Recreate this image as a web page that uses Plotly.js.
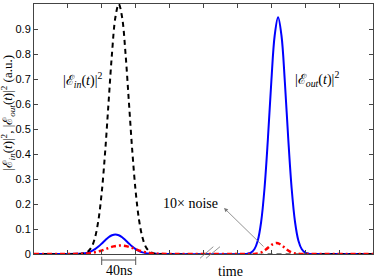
<!DOCTYPE html>
<html>
<head>
<meta charset="utf-8">
<script src="https://cdn.plot.ly/plotly-3.0.1.min.js"></script>
<style>html,body{margin:0;padding:0;background:#fff;}#chart{width:374px;height:280px;}</style>
</head>
<body>
<div id="chart"></div>
<script>
// |E_in(t)|^2 (black dashed)
const xIn = [0, 1.4, 1.5, 1.6, 1.7, 1.8, 1.9, 2.0, 2.1, 2.2, 2.3, 2.4, 2.5, 2.6, 2.7, 2.8, 2.9, 3.0, 3.1, 3.2, 3.3, 3.4, 3.5, 3.6, 10];
const yIn = [0, 0.001, 0.004, 0.011, 0.028, 0.066, 0.135, 0.249, 0.411, 0.607, 0.801, 0.946, 1.0, 0.946, 0.801, 0.607, 0.411, 0.249, 0.135, 0.066, 0.028, 0.011, 0.004, 0.001, 0];

// |E_out(t)|^2 (blue solid)
const xOut = [0,
  1.3, 1.4, 1.5, 1.6, 1.7, 1.8, 1.9, 2.0, 2.1, 2.2, 2.3, 2.4, 2.5, 2.6, 2.7, 2.8, 2.9, 3.0, 3.1, 3.2, 3.3, 3.4, 3.5,
  6.2, 6.3, 6.4, 6.5, 6.6, 6.7, 6.8, 6.9, 7.0, 7.1, 7.2, 7.3, 7.4, 7.5, 7.6, 7.7, 7.8, 7.9, 8.0, 8.1, 8.2,
  10];
const yOut = [0,
  0.0007, 0.0016, 0.0034, 0.0066, 0.0118, 0.0194, 0.0297, 0.0421, 0.0551, 0.0669, 0.075, 0.078, 0.075, 0.0669, 0.0551, 0.0421, 0.0297, 0.0194, 0.0118, 0.0066, 0.0034, 0.0016, 0.0007,
  0.0003, 0.0015, 0.0057, 0.0188, 0.053, 0.128, 0.263, 0.461, 0.688, 0.874, 0.947, 0.874, 0.688, 0.461, 0.263, 0.128, 0.053, 0.0188, 0.0057, 0.0015, 0.0003,
  0];

// 10x noise (red dash-dot)
const xNoise = [0,
  1.45, 1.55, 1.65, 1.75, 1.85, 1.95, 2.05, 2.15, 2.25, 2.35, 2.45, 2.55, 2.65, 2.75, 2.85, 2.95, 3.05, 3.15, 3.25, 3.35, 3.45, 3.55, 3.65,
  6.45, 6.55, 6.65, 6.75, 6.85, 6.95, 7.05, 7.15, 7.25, 7.35, 7.45, 7.55, 7.65, 7.75, 7.85,
  10];
const yNoise = [0,
  0.0011, 0.002, 0.0034, 0.0055, 0.0085, 0.0122, 0.0167, 0.0216, 0.0264, 0.0304, 0.033, 0.034, 0.033, 0.0304, 0.0264, 0.0216, 0.0167, 0.0122, 0.0085, 0.0055, 0.0034, 0.002, 0.0011,
  0.0004, 0.0015, 0.0041, 0.0097, 0.0188, 0.0302, 0.040, 0.044, 0.040, 0.0302, 0.0188, 0.0097, 0.0041, 0.0015, 0.0004,
  0];

const yTickVals = [0, 0.1, 0.2, 0.3, 0.4, 0.5, 0.6, 0.7, 0.8, 0.9, 1];
const yTickText = ['0', '0.1', '0.2', '0.3', '0.4', '0.5', '0.6', '0.7', '0.8', '0.9', '1'];
const xTickVals = [0, 1, 2, 3, 4, 5, 6, 7, 8, 9, 10];

const serif = 'Liberation Serif, DejaVu Serif, serif';

const traces = [
  {x: xOut, y: yOut, type: 'scatter', mode: 'lines',
   line: {color: '#0000ff', width: 2, shape: 'spline', smoothing: 1}},
  {x: xIn, y: yIn, type: 'scatter', mode: 'lines',
   line: {color: '#000000', width: 2, dash: '5px,4px', shape: 'spline', smoothing: 1}},
  {x: xNoise, y: yNoise, type: 'scatter', mode: 'lines',
   line: {color: '#ff0000', width: 2.5, dash: '5px,3px,2px,3px', shape: 'spline', smoothing: 1}}
];

const gray = '#777777';
const layout = {
  width: 374, height: 280,
  margin: {l: 34, r: 1, t: 4, b: 26},
  paper_bgcolor: '#ffffff', plot_bgcolor: '#ffffff',
  showlegend: false,
  font: {family: 'Liberation Sans, Arial, sans-serif', size: 11, color: '#000'},
  xaxis: {
    range: [0, 10], tickvals: xTickVals, showticklabels: false,
    ticks: 'inside', ticklen: 4, tickcolor: '#444', mirror: 'ticks',
    showline: true, linecolor: '#444', linewidth: 1,
    showgrid: false, zeroline: false, fixedrange: true
  },
  yaxis: {
    range: [0, 1], tickvals: yTickVals, ticktext: yTickText,
    ticks: 'inside', ticklen: 4, tickcolor: '#444', mirror: 'ticks',
    showline: true, linecolor: '#444', linewidth: 1,
    showgrid: false, zeroline: false, fixedrange: true,
    tickfont: {family: 'Liberation Sans, Arial, sans-serif', size: 11, color: '#000'}
  },
  shapes: [
    // axis break marks
    {type: 'line', xref: 'paper', yref: 'paper', x0: 0.4897, y0: -0.0172, x1: 0.5289, y1: 0.0292, line: {color: gray, width: 0.8}},
    {type: 'line', xref: 'paper', yref: 'paper', x0: 0.5074, y0: -0.0172, x1: 0.5487, y1: 0.0292, line: {color: gray, width: 0.8}},
    // 40ns bracket
    {type: 'line', xref: 'paper', yref: 'paper', x0: 0.1997, y0: -0.024, x1: 0.300, y1: -0.024, line: {color: '#555', width: 1}},
    {type: 'line', xref: 'paper', yref: 'paper', x0: 0.1997, y0: -0.0108, x1: 0.1997, y1: -0.044, line: {color: '#555', width: 1}},
    {type: 'line', xref: 'paper', yref: 'paper', x0: 0.300, y0: -0.0108, x1: 0.300, y1: -0.044, line: {color: '#555', width: 1}}
  ],
  annotations: [
    {xref: 'paper', yref: 'paper', x: -0.0767, y: 0.564, textangle: -90, showarrow: false,
     xanchor: 'center', yanchor: 'middle',
     text: '|ℰ<sub><i>in</i></sub>(<i>t</i>)|<sup>2</sup>, |ℰ<sub><i>out</i></sub>(<i>t</i>)|<sup>2</sup> (a.u.)',
     font: {family: serif, size: 13, color: '#000'}},
    {xref: 'paper', yref: 'paper', x: 0.1445, y: 0.696, showarrow: false, xanchor: 'center', yanchor: 'middle',
     text: '|ℰ<sub><i>in</i></sub>(<i>t</i>)|<sup>2</sup>', font: {family: serif, size: 14, color: '#000'}},
    {xref: 'paper', yref: 'paper', x: 0.8348, y: 0.70, showarrow: false, xanchor: 'center', yanchor: 'middle',
     text: '|ℰ<sub><i>out</i></sub>(<i>t</i>)|<sup>2</sup>', font: {family: serif, size: 14, color: '#000'}},
    {xref: 'paper', yref: 'paper', x: 0.4625, y: 0.2028, showarrow: false, xanchor: 'center', yanchor: 'middle',
     text: '10× noise', font: {family: serif, size: 14, color: '#000'}},
    {xref: 'paper', yref: 'paper', x: 0.2516, y: -0.064, showarrow: false, xanchor: 'center', yanchor: 'middle',
     text: '40ns', font: {family: serif, size: 14, color: '#000'}},
    {xref: 'paper', yref: 'paper', x: 0.581, y: -0.068, showarrow: false, xanchor: 'center', yanchor: 'middle',
     text: 'time', font: {family: serif, size: 14, color: '#000'}},
    {xref: 'paper', yref: 'paper', x: 0.5605, y: 0.184, text: '', showarrow: true,
     ax: 41, ay: 40, arrowhead: 2, arrowsize: 1, arrowwidth: 0.8, arrowcolor: gray}
  ]
};

Plotly.newPlot('chart', traces, layout, {staticPlot: true, displayModeBar: false});
</script>
</body>
</html>
